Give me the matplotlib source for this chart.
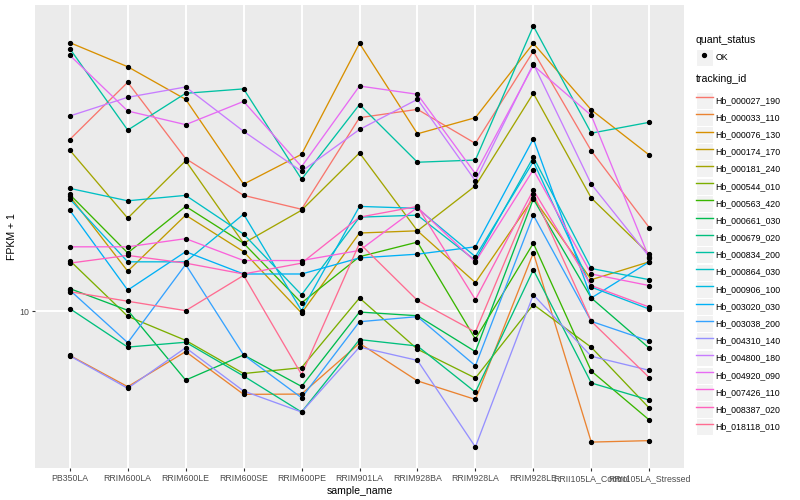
import numpy as np
import matplotlib
matplotlib.use('Agg')
import matplotlib.pyplot as plt
from matplotlib.lines import Line2D
from matplotlib.patches import Rectangle
from matplotlib.legend_handler import HandlerLine2D

plt.rcParams['font.family'] = ['Liberation Sans', 'DejaVu Sans']

sample_names = ['PB350LA', 'RRIM600LA', 'RRIM600LE', 'RRIM600SE', 'RRIM600PE', 'RRIM901LA',
                'RRIM928BA', 'RRIM928LA', 'RRIM928LE', 'RRII105LA_Control', 'RRII105LA_Stressed']

tracking_ids = ['Hb_000027_190', 'Hb_000033_110', 'Hb_000076_130', 'Hb_000174_170', 'Hb_000181_240',
                'Hb_000544_010', 'Hb_000563_420', 'Hb_000661_030', 'Hb_000679_020', 'Hb_000834_200',
                'Hb_000864_030', 'Hb_000906_100', 'Hb_003020_030', 'Hb_003038_200', 'Hb_004310_140',
                'Hb_004800_180', 'Hb_004920_090', 'Hb_007426_110', 'Hb_008387_020', 'Hb_018118_010']

# FPKM + 1, one list per tracking_id, in sample_names order
Hb_000027_190 = [26.9, 37.4, 24.1, 19.5, 18.0, 30.5, 32.0, 26.3, 44.7, 25.2, 16.2]
Hb_000033_110 = [7.76, 6.48, 7.93, 6.20, 6.21, 8.32, 6.70, 6.02, 14.0, 4.71, 4.75]
Hb_000076_130 = [47.0, 40.9, 33.9, 20.8, 24.7, 46.8, 27.8, 30.5, 46.8, 31.9, 24.6]
Hb_000174_170 = [19.4, 12.6, 17.4, 14.1, 9.90, 15.7, 15.9, 11.8, 19.2, 12.0, 13.3]
Hb_000181_240 = [25.3, 17.1, 23.8, 14.8, 17.9, 24.9, 15.9, 20.6, 35.1, 19.2, 13.9]
Hb_000544_010 = [13.4, 9.72, 8.46, 6.99, 7.23, 10.8, 8.04, 6.81, 10.4, 8.13, 5.73]
Hb_000563_420 = [19.6, 14.0, 18.3, 14.8, 10.5, 13.7, 14.9, 8.53, 14.8, 7.09, 5.35]
Hb_000661_030 = [11.4, 10.06, 6.73, 7.78, 6.49, 9.96, 9.75, 7.93, 19.1, 10.8, 8.09]
Hb_000679_020 = [10.16, 8.14, 8.37, 6.89, 5.60, 8.50, 8.19, 6.28, 12.7, 6.62, 6.00]
Hb_000834_200 = [45.4, 28.4, 35.1, 36.0, 21.4, 32.9, 23.6, 23.9, 51.7, 27.9, 29.7]
Hb_000864_030 = [20.3, 18.9, 19.5, 15.6, 11.0, 17.2, 17.4, 13.4, 24.3, 12.8, 12.0]
Hb_000906_100 = [19.1, 13.3, 13.3, 17.5, 10.04, 18.3, 18.1, 13.7, 23.7, 11.5, 10.13]
Hb_003020_030 = [17.9, 11.3, 14.1, 12.4, 12.4, 13.6, 13.9, 14.5, 27.0, 10.8, 13.3]
Hb_003038_200 = [11.3, 8.35, 13.1, 7.78, 6.08, 9.42, 9.70, 7.31, 17.4, 9.44, 8.43]
Hb_004310_140 = [7.74, 6.42, 8.11, 6.32, 5.60, 8.14, 7.54, 4.58, 11.0, 7.72, 7.12]
Hb_004800_180 = [30.8, 34.3, 36.4, 28.2, 22.4, 28.5, 33.9, 21.2, 41.6, 20.8, 13.7]
Hb_004920_090 = [43.7, 31.7, 29.3, 33.5, 23.0, 36.6, 34.9, 22.1, 41.2, 30.9, 13.6]
Hb_007426_110 = [14.5, 14.5, 15.2, 13.4, 13.4, 14.2, 18.2, 13.3, 22.6, 12.4, 11.6]
Hb_008387_020 = [13.2, 13.8, 13.2, 12.4, 13.2, 17.2, 18.3, 10.7, 20.1, 11.6, 10.25]
Hb_018118_010 = [11.2, 10.6, 10.04, 12.3, 6.95, 14.8, 10.65, 8.88, 19.7, 9.44, 6.83]

series = [Hb_000027_190, Hb_000033_110, Hb_000076_130, Hb_000174_170, Hb_000181_240,
          Hb_000544_010, Hb_000563_420, Hb_000661_030, Hb_000679_020, Hb_000834_200,
          Hb_000864_030, Hb_000906_100, Hb_003020_030, Hb_003038_200, Hb_004310_140,
          Hb_004800_180, Hb_004920_090, Hb_007426_110, Hb_008387_020, Hb_018118_010]

# ggplot default hue palette, 20 levels
colors = ['#F8766D', '#EA8331', '#D89000', '#C09B00', '#A3A500', '#7CAE00', '#39B600', '#00BB4E',
          '#00BF7D', '#00C1A3', '#00BFC4', '#00BAE0', '#00B0F6', '#35A2FF', '#9590FF', '#C77CFF',
          '#E76BF3', '#FA62DB', '#FF62BC', '#FF6C91']


class KeyHandler(HandlerLine2D):
    # grey key box behind each legend entry, like ggplot
    def create_artists(self, legend, orig_handle, xdescent, ydescent, width, height, fontsize, trans):
        arts = super().create_artists(legend, orig_handle, xdescent, ydescent, width, height, fontsize, trans)
        box = Rectangle((-xdescent, -ydescent), width, height, facecolor='#F2F2F2',
                        edgecolor='white', linewidth=0.8, transform=trans)
        return [box] + list(arts)


fig = plt.figure(figsize=(8, 5), dpi=100)
ax = fig.add_axes([35 / 800, 1 - 468 / 500, 649 / 800, 463 / 500])
ax.set_facecolor('#EBEBEB')

x = np.arange(len(sample_names))
for vals, c, name in zip(series, colors, tracking_ids):
    ax.plot(x, vals, color=c, lw=0.95, label=name, zorder=2)
for vals in series:
    ax.plot(x, vals, 'o', color='black', markersize=2.8, zorder=3)

ax.set_yscale('log')
allv = np.log10(np.concatenate(series))
lo, hi = allv.min(), allv.max()
pad = 0.05 * (hi - lo)
ax.set_ylim(10 ** (lo - pad), 10 ** (hi + pad))
ax.set_xlim(-0.6, len(sample_names) - 0.4)

ax.set_yticks([10])
ax.set_yticklabels(['10'])
ax.yaxis.set_minor_locator(matplotlib.ticker.NullLocator())
ax.set_xticks(x)
ax.set_xticklabels(sample_names)

ax.grid(True, color='white', lw=1.4, zorder=0)
ax.set_axisbelow(True)
for s in ax.spines.values():
    s.set_visible(False)
ax.tick_params(axis='both', colors='#333333', length=2.5, width=0.8, labelsize=6.3,
               labelcolor='#4D4D4D', pad=2)

ax.set_xlabel('sample_name', fontsize=7.6, labelpad=2)
ax.set_ylabel('FPKM + 1', fontsize=7.6, labelpad=1)

# legends
key_opts = dict(loc='upper left', frameon=False, fontsize=6.3, title_fontsize=7.6,
                alignment='left', handlelength=1.9, handleheight=2.6, handletextpad=0.3,
                labelspacing=0.03, borderpad=0, borderaxespad=0,
                handler_map={Line2D: KeyHandler()})

status_handle = Line2D([], [], marker='o', color='black', linestyle='', markersize=2.8)
leg1 = fig.legend([status_handle], ['OK'], title='quant_status',
                  bbox_to_anchor=(696 / 800, 1 - 35 / 500), **key_opts)
leg1._legend_box.sep = 3

handles = [Line2D([], [], color=c, lw=1.0) for c in colors]
leg2 = fig.legend(handles, tracking_ids, title='tracking_id',
                  bbox_to_anchor=(696 / 800, 1 - 74 / 500), **key_opts)
leg2._legend_box.sep = 5.5

fig.savefig('out.png', dpi=100)
